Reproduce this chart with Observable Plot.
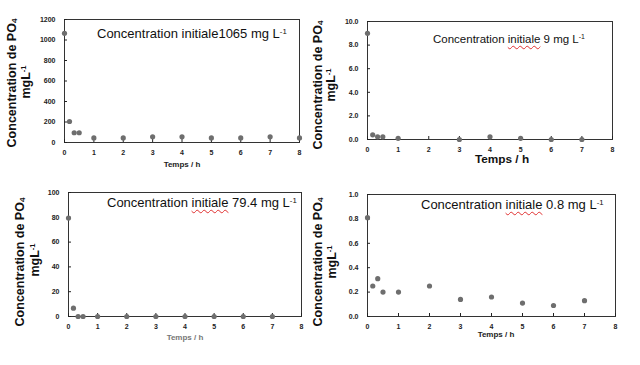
<!DOCTYPE html>
<html>
<head>
<meta charset="utf-8">
<script src="https://cdn.jsdelivr.net/npm/d3@7"></script>
<script src="https://cdn.jsdelivr.net/npm/@observablehq/plot@0.6"></script>
<style>
  html, body { margin: 0; padding: 0; background: #fff; }
  #wrap { position: relative; width: 640px; height: 365px; overflow: hidden; background: #fff; font-family: "Liberation Sans", Arial, sans-serif; }
  .abs { position: absolute; white-space: nowrap; }
  .ytitle { position: absolute; white-space: nowrap; font-weight: bold; font-size: 12.5px; color: #111; transform: translate(-50%, -50%) rotate(-90deg); line-height: 1; }
  .note { position: absolute; white-space: nowrap; font-size: 13px; color: #111; line-height: 1; }
  .xlab { position: absolute; white-space: nowrap; font-weight: bold; font-size: 8px; color: #222; transform: translate(-50%, -50%); line-height: 1; }
  .sq { text-decoration: underline wavy #e03030; text-decoration-thickness: 1px; text-underline-offset: 2px; }
  sup { font-size: 0.6em; vertical-align: 0.55em; line-height: 0; }
  sub { font-size: 0.65em; vertical-align: -0.2em; line-height: 0; }
</style>
</head>
<body>
<div id="wrap"></div>
<script>
// ---- data ----
const xTicks = [0, 1, 2, 3, 4, 5, 6, 7, 8];

const timesA = [0, 0.17, 0.33, 0.5, 1, 2, 3, 4, 5, 6, 7, 8];
const concA  = [1065, 205, 95, 95, 45, 45, 55, 55, 45, 45, 55, 45];
const yTicksA = [0, 200, 400, 600, 800, 1000, 1200];

const timesB = [0, 0.17, 0.33, 0.5, 1, 3, 4, 5, 6, 7];
const concB  = [9, 0.4, 0.23, 0.23, 0.1, 0, 0.23, 0.1, 0, 0];
const yTicksB = [0, 2, 4, 6, 8, 10];

const timesC = [0, 0.17, 0.33, 0.5, 1, 2, 3, 4, 5, 6, 7];
const concC  = [79.4, 6.7, 0, 0, 0, 0, 0, 0, 0, 0, 0];
const yTicksC = [0, 20, 40, 60, 80, 100];

const timesD = [0, 0.17, 0.33, 0.5, 1, 2, 3, 4, 5, 6, 7];
const concD  = [0.81, 0.25, 0.31, 0.2, 0.2, 0.25, 0.14, 0.16, 0.11, 0.09, 0.13];
const yTicksD = [0, 0.2, 0.4, 0.6, 0.8, 1.0];

const initialLabels = ["1065", "9", "79.4", "0.8"];
const xTitle = "Temps / h";

// ---- drawing ----
const wrap = document.getElementById("wrap");

function panel(times, conc, yTicks, yFmt, box) {
  const ML = 40, MT = 6, MR = 6, MB = 22;
  const data = times.map((t, i) => ({t, c: conc[i]}));
  const svg = Plot.plot({
    width: box.r - box.l + ML + MR,
    height: box.b - box.t + MT + MB,
    marginLeft: ML, marginTop: MT, marginRight: MR, marginBottom: MB,
    x: {domain: [0, 8]},
    y: {domain: [0, yTicks[yTicks.length - 1]]},
    style: {fontFamily: "'Liberation Sans', Arial, sans-serif", fontSize: "7px", fontWeight: "bold", background: "transparent", overflow: "visible", color: "#222"},
    marks: [
      Plot.frame({stroke: "#333", strokeWidth: 1}),
      Plot.axisX(xTicks, {tickSize: -3, tickPadding: 11, label: null, tickFormat: d => String(d)}),
      Plot.axisY(yTicks, {tickSize: -3, tickPadding: 12, label: null, tickFormat: yFmt}),
      Plot.dot(data, {x: "t", y: "c", r: 2.6, fill: "#6e6e6e", stroke: "none"})
    ]
  });
  svg.style.position = "absolute";
  svg.style.left = (box.l - ML) + "px";
  svg.style.top = (box.t - MT) + "px";
  wrap.appendChild(svg);
}

function add(html, cls, x, y, extra) {
  const d = document.createElement("div");
  d.className = cls;
  d.innerHTML = html;
  d.style.left = x + "px";
  d.style.top = y + "px";
  if (extra) Object.assign(d.style, extra);
  wrap.appendChild(d);
}

const f1 = d3.format(".1f");
panel(timesA, concA, yTicksA, d => String(d), {l: 64, t: 19, r: 299, b: 142});
panel(timesB, concB, yTicksB, f1, {l: 367, t: 21, r: 612, b: 139});
panel(timesC, concC, yTicksC, d => String(d), {l: 68, t: 192, r: 301, b: 316});
panel(timesD, concD, yTicksD, f1, {l: 367, t: 194, r: 615, b: 316});

// y titles
const yt1 = "Concentration de PO<sub>4</sub>";
const yt2 = "mgL<sup>-1</sup>";
add(yt1, "ytitle", 12, 83); add(yt2, "ytitle", 26, 82);
add(yt1, "ytitle", 318, 85); add(yt2, "ytitle", 331, 85);
add(yt1, "ytitle", 20, 262); add(yt2, "ytitle", 35, 260);
add(yt1, "ytitle", 318, 262); add(yt2, "ytitle", 332, 262);

// x titles
add(xTitle, "xlab", 182, 165);
add(xTitle, "xlab", 502, 160, {fontSize: "11.8px", color: "#111"});
add(xTitle, "xlab", 185, 338, {color: "#777"});
add(xTitle, "xlab", 496, 335);

// annotations
add("Concentration initiale" + initialLabels[0] + " mg L<sup>-1</sup>", "note", 97, 27);
add("Concentration <span class='sq'>initiale</span> " + initialLabels[1] + " mg L<sup>-1</sup>", "note", 433, 34, {fontSize: "11.5px"});
add("Concentration <span class='sq'>initiale</span> " + initialLabels[2] + " mg L<sup>-1</sup>", "note", 107, 196);
add("Concentration <span class='sq'>initiale</span> " + initialLabels[3] + " mg L<sup>-1</sup>", "note", 421, 198);
</script>
</body>
</html>
